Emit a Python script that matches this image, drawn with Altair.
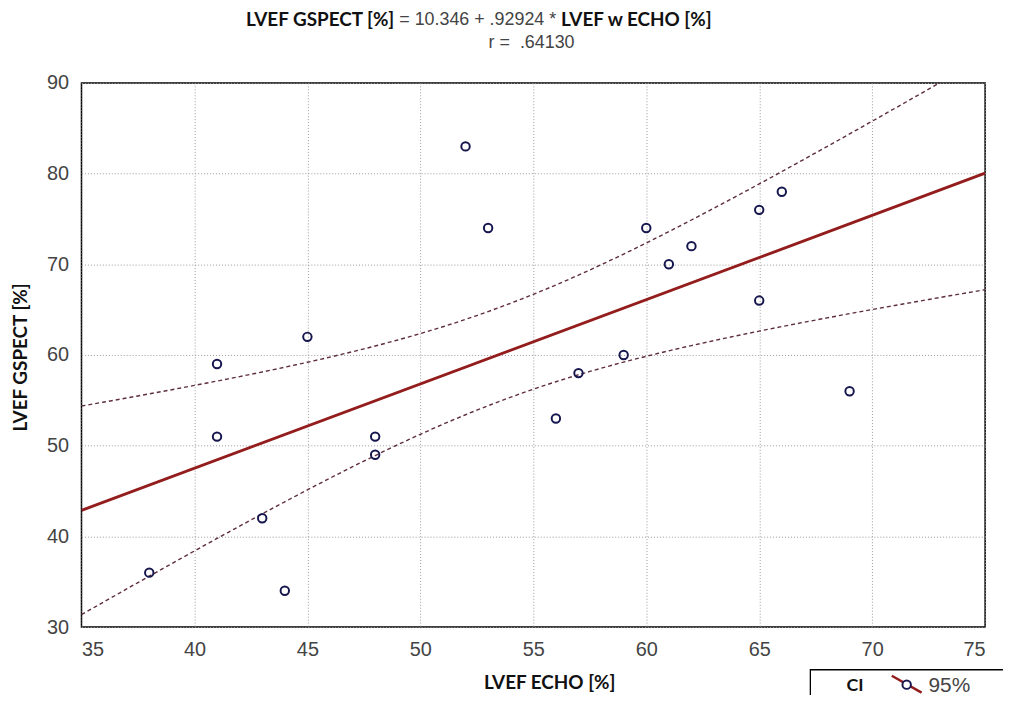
import altair as alt
import numpy as np
import pandas as pd

# ---- data ----
echo = [38, 41, 41, 43, 44, 45, 48, 48, 52, 53, 56, 57, 59, 60, 61, 62, 65, 65, 66, 69]
gspect = [36, 59, 51, 42, 34, 62, 51, 49, 83, 74, 53, 58, 60, 74, 70, 72, 76, 66, 78, 56]
x_ticks = [35, 40, 45, 50, 55, 60, 65, 70, 75]
y_ticks = [30, 40, 50, 60, 70, 80, 90]
x_domain = [35, 75]
y_domain = [30, 90]
t_crit = 2.1009  # Student t, 0.975 quantile, df = 18 (95% CI)

title_bold_1 = "LVEF GSPECT [%]"
title_normal = "= 10.346 + .92924 *"
title_bold_2 = "LVEF w ECHO [%]"
title_r = "r =\u00a0 .64130"
x_title = "LVEF ECHO [%]"
y_title = "LVEF GSPECT [%]"
legend_label = "CI"
legend_value = "95%"

# ---- derived statistics (regression confidence band) ----
xa = np.array(echo, float)
ya = np.array(gspect, float)
n = len(xa)
slope, intercept = np.polyfit(xa, ya, 1)
resid = ya - (intercept + slope * xa)
s = np.sqrt((resid ** 2).sum() / (n - 2))
sxx = ((xa - xa.mean()) ** 2).sum()
xg = np.linspace(x_domain[0], x_domain[1], 81)
fit = intercept + slope * xg
half = t_crit * s * np.sqrt(1.0 / n + (xg - xa.mean()) ** 2 / sxx)

pts = pd.DataFrame({"x": echo, "y": gspect})
band = pd.concat([
    pd.DataFrame({"x": xg, "y": fit + half, "side": "upper"}),
    pd.DataFrame({"x": xg, "y": fit - half, "side": "lower"}),
])

W, H = 910, 548
NAVY = "#16164f"
RED = "#931c1c"
CIC = "#5e2e3e"
TICKFONT = "Liberation Sans"
BOLDFONT = "Lato"

xs = alt.Scale(domain=x_domain, nice=False, zero=False)
ys = alt.Scale(domain=y_domain, nice=False, zero=False)
xaxis = alt.Axis(values=x_ticks, title=x_title, titleX=471, titleY=56,
                 titleAlign="center", titleBaseline="middle", labelPadding=13)
yaxis = alt.Axis(values=y_ticks, title=y_title, titleX=-61, titleY=276,
                 titleAngle=270, titleAlign="center", titleBaseline="middle",
                 labelPadding=13)
X = alt.X("x:Q", scale=xs, axis=xaxis)
Y = alt.Y("y:Q", scale=ys, axis=yaxis)

ci = alt.Chart(band).mark_line(color=CIC, strokeWidth=1.4, strokeDash=[4, 3], clip=True).encode(
    x=X, y=Y, detail="side:N")

reg = alt.Chart(pts).transform_regression("x", "y", method="linear", extent=x_domain).mark_line(
    color=RED, strokeWidth=3, clip=True).encode(x=X, y=Y)

dots = alt.Chart(pts).mark_point(shape="circle", filled=False, size=72, strokeWidth=2,
                                 color=NAVY, opacity=1).encode(x=X, y=Y)

one = pd.DataFrame({"k": [0]})


def txt(text, x, y, align, font, size, weight="normal", color="#111"):
    return alt.Chart(one).mark_text(text=text, align=align, baseline="middle", font=font,
                                    fontSize=size, fontWeight=weight, color=color).encode(
        x=alt.value(x), y=alt.value(y))


t1 = txt(title_bold_1, 315, -63, "right", BOLDFONT, 19, "bold")
t2 = txt(title_normal, 320, -63, "left", TICKFONT, 18, "normal", "#444")
t3 = txt(title_bold_2, 483, -63, "left", BOLDFONT, 19, "bold")
t4 = txt(title_r, 410, -40, "left", TICKFONT, 18, "normal", "#444")

box = alt.Chart(one).mark_rect(fill="white", stroke="black", strokeWidth=1.3).encode(
    x=alt.value(734), x2=alt.value(960), y=alt.value(591), y2=alt.value(660))
leg_line = alt.Chart(one).mark_rule(color=RED, strokeWidth=2.5).encode(
    x=alt.value(816), x2=alt.value(846), y=alt.value(597), y2=alt.value(614))
leg_dot = alt.Chart(one).mark_point(shape="circle", filled=True, fill="white", size=72,
                                    stroke=NAVY, strokeWidth=2, opacity=1).encode(
    x=alt.value(831), y=alt.value(606))
leg_ci = txt(legend_label, 779, 607, "center", BOLDFONT, 18, "bold")
leg_95 = txt(legend_value, 853, 607, "left", TICKFONT, 21, "normal", "#444")

chart = alt.layer(ci, reg, dots, t1, t2, t3, t4, box, leg_line, leg_dot, leg_ci, leg_95).properties(
    width=W, height=H,
    autosize=alt.AutoSizeParams(type="none"),
    padding={"left": 74, "top": 73, "right": 18, "bottom": 66},
    background="white",
).configure_view(stroke="black", strokeWidth=1.5).configure_axis(
    domain=False, ticks=False, grid=True, gridColor="#9a9a9a", gridDash=[1, 2], gridWidth=1,
    labelFont=TICKFONT, labelFontSize=20, labelColor="#444",
    titleFont=BOLDFONT, titleFontSize=19, titleFontWeight="bold", titleColor="#111",
)

chart.save("out.html", embed_options={"renderer": "svg", "actions": False})
